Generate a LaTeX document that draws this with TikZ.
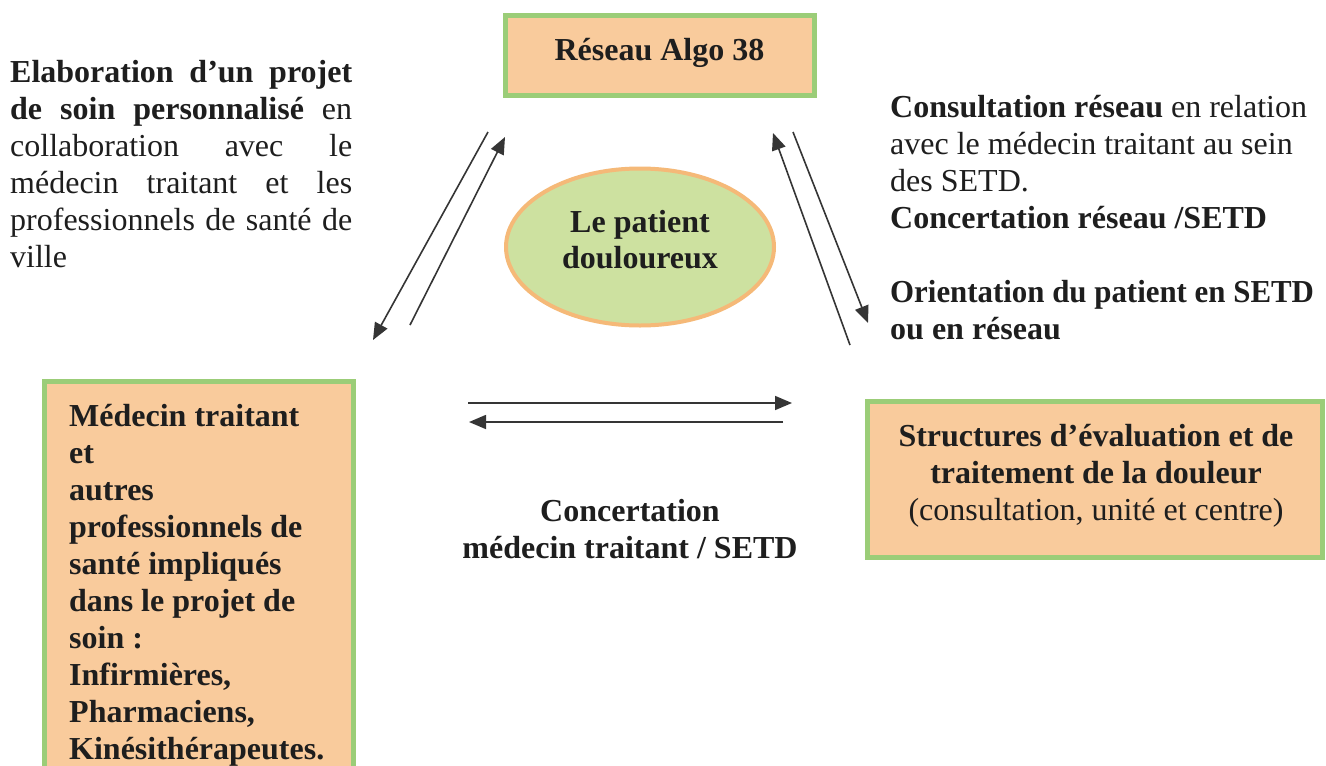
\documentclass[tikz,border=0pt]{standalone}
\usepackage{fontspec}
\usepackage{graphicx}
\setmainfont{Liberation Serif}
\usetikzlibrary{arrows.meta,shapes.geometric}
\definecolor{peach}{HTML}{F9CB9C}
\definecolor{lgreen}{HTML}{9BCD78}
\definecolor{efill}{HTML}{CDE1A0}
\definecolor{eborder}{HTML}{F5B978}
\definecolor{ink}{HTML}{1E1E1E}
\newcommand{\fl}{\rule{0pt}{27pt}}
\tikzset{
  box/.style={draw=lgreen, line width=5pt, fill=peach},
  txt/.style={inner sep=0pt, text=ink, font=\fontsize{32}{37}\selectfont},
  arr/.style={draw=ink!90, line width=1.6pt, -{Triangle[length=17pt,width=14pt]}},
}
\begin{document}
\begin{tikzpicture}[x=1pt,y=-1pt]
\clip (0,0) rectangle (1326,766);
\fill[white] (0,0) rectangle (1326,766);

% boxes
\draw[box] (505,15) rectangle (814,95);
\draw[box] (44,381) rectangle (353.5,800);
\draw[box] (867,401) rectangle (1322.5,557);
\node[ellipse, draw=eborder, line width=4pt, fill=efill, minimum width=268pt, minimum height=157pt, inner sep=0pt] (pat) at (640,247) {};

% texts
\node[txt, anchor=north, align=center] (reseau) at (659.5,33) {\fl\textbf{Réseau Algo 38}};
\node[txt, anchor=north, align=center, font=\fontsize{32}{36}\selectfont] (pattxt) at (640,205.5) {\fl\textbf{Le patient}\\\textbf{douloureux}};
\node[txt, anchor=north west, text width=342pt, align=justify] (elab) at (10,55.5)
 {\fl\textbf{Elaboration d’un projet}\linebreak
  \textbf{de soin personnalisé} en\linebreak
  collaboration avec le\linebreak
  médecin traitant et les\linebreak
  professionnels de santé de\linebreak
  ville};
\node[txt, anchor=north west, align=left] (consult) at (890,90)
 {\fl\textbf{Consultation réseau} en relation\\
  avec le médecin traitant au sein\\
  des SETD.\\
  \textbf{Concertation réseau /SETD}\\[37pt]
  \scalebox{0.965}[1]{\textbf{Orientation du patient en SETD}}\\
  \textbf{ou en réseau}};
\node[txt, anchor=north west, align=left] (medecin) at (69,399.5)
 {\fl\textbf{Médecin traitant}\\
  \textbf{et}\\
  \textbf{autres}\\
  \textbf{professionnels de}\\
  \textbf{santé impliqués}\\
  \textbf{dans le projet de}\\
  \textbf{soin :}\\
  \textbf{Infirmières,}\\
  \textbf{Pharmaciens,}\\
  \textbf{Kinésithérapeutes.}};
\node[txt, anchor=north, align=center] (setd) at (1096,419.5)
 {\fl\textbf{Structures d’évaluation et de}\\
  \textbf{traitement de la douleur}\\
  (consultation, unité et centre)};
\node[txt, anchor=north, align=center, font=\fontsize{32}{37.5}\selectfont] (concert) at (630,494)
 {\fl\textbf{Concertation}\\
  \textbf{médecin traitant / SETD}};

% arrow end points
\coordinate (l1s) at (488,132); \coordinate (l1e) at (373,340);
\coordinate (l2s) at (410,325); \coordinate (l2e) at (505,137);
\coordinate (r1s) at (850,345); \coordinate (r1e) at (773,133);
\coordinate (r2s) at (793,132); \coordinate (r2e) at (868,323);
\coordinate (h1s) at (468,403); \coordinate (h1e) at (792,403);
\coordinate (h2s) at (783,422); \coordinate (h2e) at (469,422);

\draw[arr] (l1s) -- (l1e);
\draw[arr] (l2s) -- (l2e);
\draw[arr] (r1s) -- (r1e);
\draw[arr] (r2s) -- (r2e);
\draw[arr] (h1s) -- (h1e);
\draw[arr] (h2s) -- (h2e);
\end{tikzpicture}
\end{document}
